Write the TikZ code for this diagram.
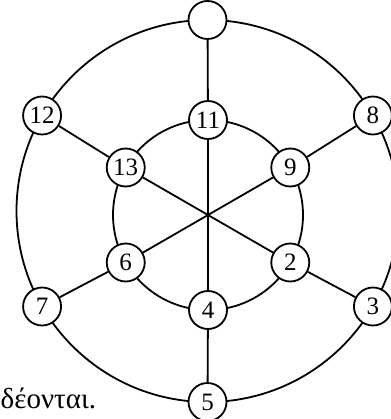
\documentclass[tikz,border=0pt]{standalone}
\usepackage{fontspec}
\setmainfont{Liberation Serif}
\usetikzlibrary{backgrounds,calc}
\begin{document}
\begin{tikzpicture}[x=1pt,y=-1pt,
  vnode/.style={circle,draw,line width=1.8pt,fill=white,minimum size=38pt,inner sep=0pt,font=\fontsize{25}{29}\selectfont},
  edge/.style={line width=1.8pt}]
\useasboundingbox (0,0) rectangle (390,419);
\coordinate (Co) at (207.5,211);
\coordinate (Ci) at (208,215);
\def\R{191}
\def\r{95}
% outer ring (page angles negated because y points down)
\node[vnode] (t)  at ($(Co)+(-90:\R)$) {};
\node[vnode] (n8) at ($(Co)+(-30:\R)$) {8};
\node[vnode] (n3) at ($(Co)+(30:\R)$) {3};
\node[vnode] (n5) at ($(Co)+(90:\R)$) {5};
\node[vnode] (n7) at ($(Co)+(150:\R)$) {7};
\node[vnode] (n12) at ($(Co)+(210:\R)$) {12};
% inner ring
\node[vnode] (n11) at ($(Ci)+(-90:\r)$) {11};
\node[vnode] (n9) at ($(Ci)+(-30:\r)$) {9};
\node[vnode] (n2) at ($(Ci)+(30:\r)$) {2};
\node[vnode] (n4) at ($(Ci)+(90:\r)$) {4};
\node[vnode] (n6) at ($(Ci)+(150:\r)$) {6};
\node[vnode] (n13) at ($(Ci)+(210:\r)$) {13};
\begin{scope}[on background layer]
  \draw[edge] (Co) circle[radius=\R];
  \draw[edge] (Ci) circle[radius=\r];
\end{scope}
\draw[edge] (t) -- (n11);
\draw[edge] (n11) -- (n4);
\draw[edge] (n4) -- (n5);
\draw[edge] (n12) -- (n13);
\draw[edge] (n13) -- (n2);
\draw[edge] (n2) -- (n3);
\draw[edge] (n8) -- (n9);
\draw[edge] (n9) -- (n6);
\draw[edge] (n6) -- (n7);
\node[anchor=base west,inner sep=0pt,font=\fontsize{29}{34}\selectfont] (txt) at (0.5,408) {δέονται.};
\end{tikzpicture}
\end{document}
